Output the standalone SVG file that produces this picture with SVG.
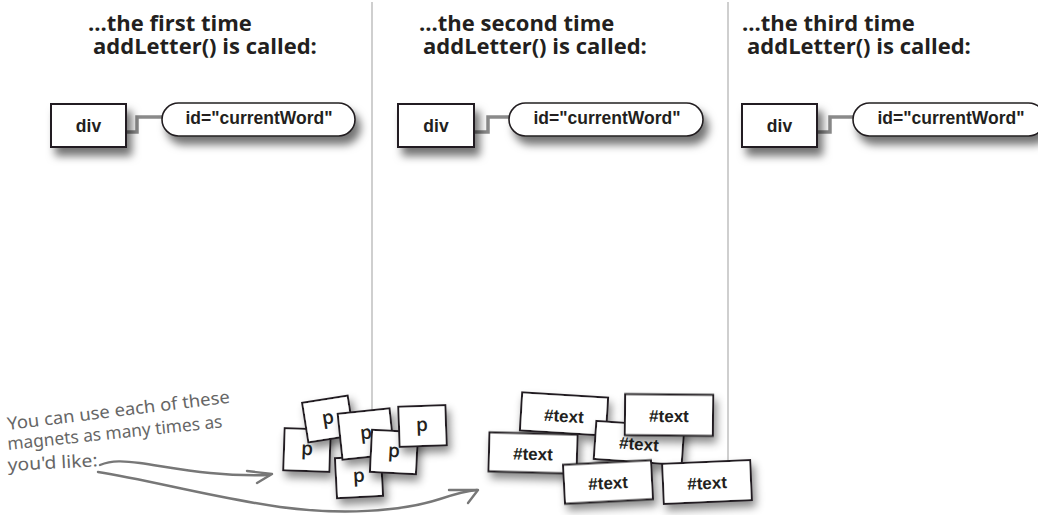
<svg xmlns="http://www.w3.org/2000/svg" width="1038" height="515" viewBox="0 0 1038 515">
<defs>
<style>
.title{font-family:"Open Sans","Liberation Sans",sans-serif;font-weight:700;font-size:22px;fill:#231f20}
.lbl{font-family:"Liberation Sans",Arial,sans-serif;font-weight:700;font-size:17.5px;fill:#231f20;text-anchor:middle}
.box{fill:#fff;stroke:#231f20;stroke-width:2}
.pill{fill:#fff;stroke:#231f20;stroke-width:1.6}
.conn{fill:none;stroke:#8a8a8a;stroke-width:3.5}
.div{stroke:#cfcfcf;stroke-width:2}
.mag{fill:#fff;stroke:#231f20;stroke-width:2}
.ptxt{font-family:"Open Sans","Liberation Sans",sans-serif;font-weight:600;font-size:19px;fill:#231f20;text-anchor:middle}
.ttxt{font-family:"Liberation Sans",Arial,sans-serif;font-weight:700;font-size:17px;fill:#231f20;text-anchor:middle}
.hand{font-family:"Noto Sans","DejaVu Sans",sans-serif;font-size:17.5px;fill:#666}
.arrow{fill:none;stroke:#777;stroke-width:2.4;stroke-linecap:round;stroke-linejoin:round}
</style>
<filter id="sh" x="-30%" y="-40%" width="170%" height="200%">
<feDropShadow dx="5" dy="8" stdDeviation="4" flood-color="#000" flood-opacity="0.55"/>
</filter>
<filter id="msh" x="-30%" y="-40%" width="170%" height="200%">
<feDropShadow dx="3" dy="6" stdDeviation="4" flood-color="#000" flood-opacity="0.45"/>
</filter>
</defs>
<rect width="1038" height="515" fill="#fff"/>

<g id="dividers">
<line class="div" x1="372" y1="2" x2="372" y2="485"/>
<line class="div" x1="728" y1="2" x2="728" y2="490"/>
</g>

<g id="titles">
<text class="title" x="88" y="31">...the first time</text>
<text class="title" x="93" y="54">addLetter() is called:</text>
<text class="title" x="419" y="31">...the second time</text>
<text class="title" x="423" y="54">addLetter() is called:</text>
<text class="title" x="742" y="31">...the third time</text>
<text class="title" x="747" y="54">addLetter() is called:</text>
</g>

<g id="connectors">
<path class="conn" d="M126,132 H137 V117 H163"/>
<path class="conn" d="M474,132 H488 V117 H510"/>
<path class="conn" d="M817,132 H830 V117 H854"/>
</g>

<g id="div1"><rect class="box" x="51" y="104" width="75" height="43" filter="url(#sh)"/><text class="lbl" x="88.5" y="132">div</text></g>
<g id="attr1"><rect class="pill" x="162" y="103" width="193" height="33" rx="16.5" filter="url(#sh)"/><text class="lbl" x="259" y="124">id="currentWord"</text></g>

<g id="div2"><rect class="box" x="398" y="104" width="76" height="43" filter="url(#sh)"/><text class="lbl" x="436" y="132">div</text></g>
<g id="attr2"><rect class="pill" x="509" y="103" width="194" height="33" rx="16.5" filter="url(#sh)"/><text class="lbl" x="607" y="124">id="currentWord"</text></g>

<g id="div3"><rect class="box" x="742" y="104" width="75" height="43" filter="url(#sh)"/><text class="lbl" x="779.5" y="132">div</text></g>
<g id="attr3"><rect class="pill" x="853" y="103" width="192" height="33" rx="16.5" filter="url(#sh)"/><text class="lbl" x="951" y="124">id="currentWord"</text></g>

<g id="note">
<text class="hand" x="8" y="430" transform="rotate(-7 8 430)" textLength="224" lengthAdjust="spacingAndGlyphs">You can use each of these</text>
<text class="hand" x="8" y="450" transform="rotate(-6 8 450)" textLength="216" lengthAdjust="spacingAndGlyphs">magnets as many times as</text>
<text class="hand" x="8" y="471" transform="rotate(-3 8 471)" textLength="90" lengthAdjust="spacingAndGlyphs">you'd like:</text>
</g>

<g id="arrows">
<path class="arrow" d="M100,465 C112,460 125,461 140,463 C175,468 215,477 270,475"/>
<path class="arrow" d="M247,471 L272,474 L257,483"/>
<path class="arrow" d="M98,472 C150,480 210,497 280,507 C340,515 400,512 440,499 C455,494 465,491 477,490"/>
<path class="arrow" d="M449,490 L478,490 L468,503"/>
</g>

<g id="p-magnets">
<g id="p2" transform="translate(307,450) rotate(2)"><rect class="mag" x="-23" y="-21" width="46" height="42" filter="url(#msh)"/><text class="ptxt" y="5">p</text></g>
<g id="p1" transform="translate(328,419) rotate(-9)"><rect class="mag" x="-23" y="-20" width="46" height="40" filter="url(#msh)"/><text class="ptxt" y="5">p</text></g>
<g id="p3" transform="translate(359,477) rotate(-3)"><rect class="mag" x="-23" y="-20" width="46" height="40" filter="url(#msh)"/><text class="ptxt" y="5">p</text></g>
<g id="p4" transform="translate(366,434) rotate(-6)"><rect class="mag" x="-26" y="-23" width="52" height="46" filter="url(#msh)"/><text class="ptxt" y="5">p</text></g>
<g id="p5" transform="translate(394,452) rotate(3)"><rect class="mag" x="-23" y="-21" width="46" height="42" filter="url(#msh)"/><text class="ptxt" y="5">p</text></g>
<g id="p6" transform="translate(422,426) rotate(-2)"><rect class="mag" x="-23" y="-20" width="47" height="40" filter="url(#msh)"/><text class="ptxt" y="5">p</text></g>
</g>

<g id="text-magnets">
<g id="t1" transform="translate(564,414) rotate(3.5)"><rect class="mag" x="-43" y="-19" width="86" height="38" filter="url(#msh)"/><text class="ttxt" y="8">#text</text></g>
<g id="t2" transform="translate(533,453) rotate(1.5)"><rect class="mag" x="-44" y="-19.5" width="88" height="39" filter="url(#msh)"/><text class="ttxt" y="7">#text</text></g>
<g id="t3" transform="translate(639,443) rotate(4)"><rect class="mag" x="-44" y="-19" width="88" height="38" filter="url(#msh)"/><text class="ttxt" y="7">#text</text></g>
<g id="t4" transform="translate(669,415) rotate(0.5)"><rect class="mag" x="-44" y="-20.5" width="88" height="41" filter="url(#msh)"/><text class="ttxt" y="7">#text</text></g>
<g id="t5" transform="translate(608,482) rotate(-3)"><rect class="mag" x="-44" y="-19.5" width="88" height="39" filter="url(#msh)"/><text class="ttxt" y="7">#text</text></g>
<g id="t6" transform="translate(707,482) rotate(-2.5)"><rect class="mag" x="-44" y="-20" width="88" height="40" filter="url(#msh)"/><text class="ttxt" y="7">#text</text></g>
</g>
</svg>
